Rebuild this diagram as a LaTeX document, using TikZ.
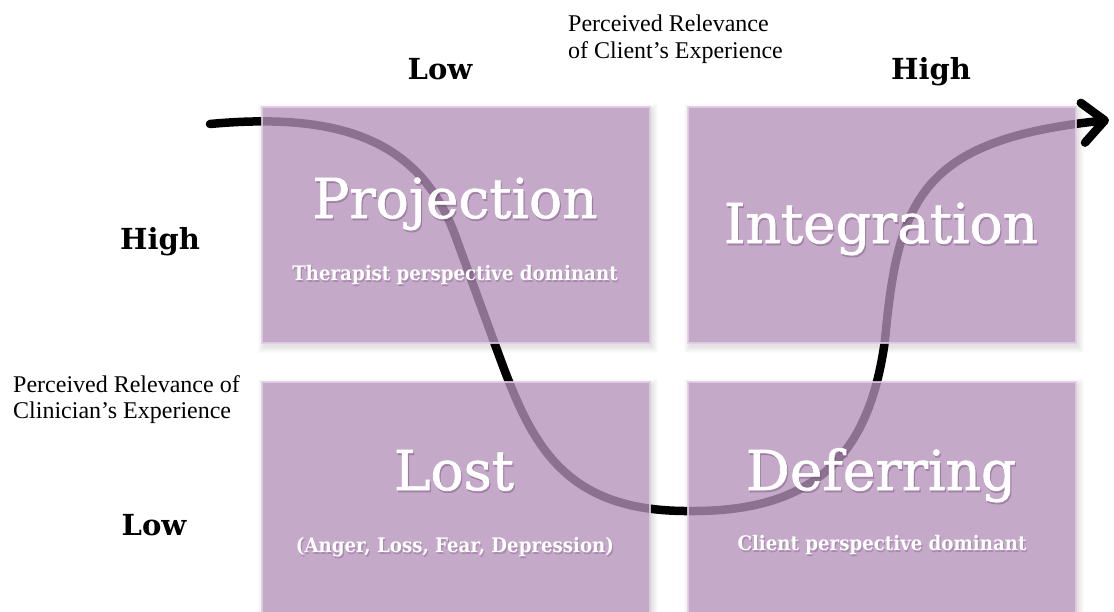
\documentclass[tikz,border=0pt]{standalone}
\usepackage{fontspec}
\setmainfont{Liberation Serif}
\newfontfamily\slab{DejaVu Serif}
\newfontfamily\slabtitle[FakeBold=1.2]{DejaVu Serif}
\newfontfamily\slabsub[FakeStretch=0.91]{DejaVu Serif}
\usetikzlibrary{arrows.meta}

\definecolor{panelfill}{RGB}{181,146,186}
\definecolor{panelrim}{RGB}{226,204,230}
\definecolor{glowc}{RGB}{105,65,110}

\tikzset{
  panel/.style={fill=panelfill, fill opacity=0.78, draw=panelrim, draw opacity=0.85,
                line width=1.5pt, inner sep=0pt, outer sep=0pt},
  panelbase/.style={fill=white, inner sep=0pt, outer sep=0pt},
  pathline/.style={line width=8.5pt, line cap=round, line join=round,
                   -{Straight Barb[length=22pt,width=40pt,round]}},
  title/.style={font=\slabtitle\fontsize{55}{60}\selectfont, text=white, anchor=base, inner sep=0pt},
  titleglow/.style={title, text=glowc, text opacity=0.3},
  subtitle/.style={font=\slabsub\bfseries\fontsize{20}{24}\selectfont, text=white, anchor=base, inner sep=0pt},
  subtitleglow/.style={subtitle, text=glowc, text opacity=0.3},
  level/.style={font=\slab\bfseries\fontsize{29}{32}\selectfont, anchor=base, inner sep=0pt},
  axis/.style={font=\fontsize{24}{26}\selectfont, anchor=base west, inner sep=0pt},
}

% white text on a panel, with a soft darker copy underneath
\newcommand\panellabel[5]{%
  \node[#4glow] (#1-glow) at (#2+1.2,#3+2) {#5};
  \node[#4] (#1) at (#2,#3) {#5};}

\begin{document}
\begin{tikzpicture}[x=1pt,y=-1pt]
\useasboundingbox (0,0) rectangle (1114,611);
\fill[white] (0,0) rectangle (1114,611);

% soft drop shadows of the four panels
\foreach \xa/\ya/\xb/\yb in {262/107/650/343, 688/107/1076/343, 262/382/650/640, 688/382/1076/640}{
  \foreach \k in {1,...,7}{
    \fill[black,opacity=0.016] (\xa-\k+3,\ya-\k+4) rectangle (\xb+\k+1,\yb+\k+3);
  }
}

% panel bases
\node[panelbase, minimum width=388, minimum height=236] (p1base) at (456,225) {};
\node[panelbase, minimum width=388, minimum height=236] (p2base) at (882,225) {};
\node[panelbase, minimum width=388, minimum height=258] (p3base) at (456,511) {};
\node[panelbase, minimum width=388, minimum height=258] (p4base) at (882,511) {};

% the path through the four states
\coordinate (start) at (210,124);
\coordinate (finish) at (1109,120);
\draw[pathline] (start) .. controls (340,112) and (420,140) .. (455,235)
  -- (497,350) .. controls (530,440) and (560,512) .. (690,511)
  .. controls (820,512) and (870,450) .. (885,340)
  .. controls (898,200) and (920,140) .. (finish);

% translucent panels
\node[panel, minimum width=388, minimum height=236] (projbox) at (456,225) {};
\node[panel, minimum width=388, minimum height=236] (intbox) at (882,225) {};
\node[panel, minimum width=388, minimum height=258] (lostbox) at (456,511) {};
\node[panel, minimum width=388, minimum height=258] (defbox) at (882,511) {};

% panel texts
\panellabel{projection}{455}{218}{title}{Projection}
\panellabel{therapist}{455}{280}{subtitle}{Therapist perspective dominant}
\panellabel{integration}{881}{243}{title}{Integration}
\panellabel{lost}{454}{490}{title}{Lost}
\panellabel{emotions}{455}{552}{subtitle}{(Anger, Loss, Fear, Depression)}
\panellabel{deferring}{881}{490}{title}{Deferring}
\panellabel{client}{882}{550}{subtitle}{Client perspective dominant}

% axis levels
\node[level] (toplow) at (440,79) {Low};
\node[level] (tophigh) at (931,79) {High};
\node[level] (lefthigh) at (160,249) {High};
\node[level] (leftlow) at (154,535) {Low};

% axis titles
\node[axis] (clientaxis1) at (568,31) {Perceived Relevance};
\node[axis] (clientaxis2) at (568,58) {of Client’s Experience};
\node[axis] (clinaxis1) at (13,392) {Perceived Relevance of};
\node[axis] (clinaxis2) at (13,418) {Clinician’s Experience};
\end{tikzpicture}
\end{document}
